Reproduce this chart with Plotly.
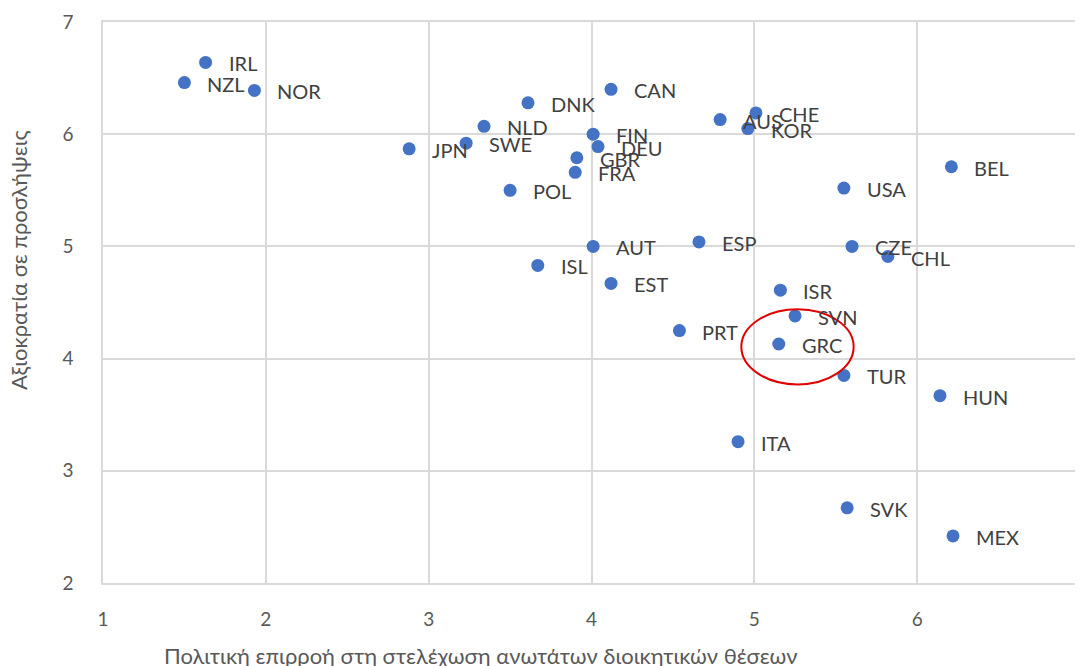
import plotly.graph_objects as go

codes = ["IRL","NZL","NOR","JPN","SWE","NLD","DNK","POL","ISL","AUT","FIN","DEU","GBR","FRA",
         "CAN","EST","ESP","PRT","AUS","CHE","KOR","ITA","ISR","SVN","GRC","TUR","SVK","USA",
         "CZE","CHL","BEL","HUN","MEX"]
political = [1.63,1.50,1.93,2.88,3.23,3.34,3.61,3.50,3.67,4.01,4.01,4.04,3.91,3.90,
             4.12,4.12,4.66,4.54,4.79,5.01,4.96,4.90,5.16,5.25,5.15,5.55,5.57,5.55,
             5.60,5.82,6.21,6.14,6.22]
merit = [6.64,6.46,6.39,5.87,5.92,6.07,6.28,5.50,4.83,5.00,6.00,5.89,5.79,5.66,
         6.40,4.67,5.04,4.25,6.13,6.19,6.05,3.26,4.61,4.38,4.13,3.85,2.67,5.52,
         5.00,4.91,5.71,3.67,2.42]

x_ticks = [1, 2, 3, 4, 5, 6, 7]
y_ticks = [2, 3, 4, 5, 6, 7]

# highlight ellipse (data coords)
ellipse_x = [4.92, 5.61]
ellipse_y = [3.77, 4.44]

x_title = "Πολιτική επιρροή στη στελέχωση ανωτάτων διοικητικών θέσεων"
y_title = "Αξιοκρατία σε προσλήψεις"

FONT = "Lato, Open Sans, sans-serif"

fig = go.Figure()
fig.add_trace(go.Scatter(
    x=political, y=merit, mode="markers",
    marker=dict(size=13, color="#4472C4"),
    hoverinfo="text", text=codes, showlegend=False, cliponaxis=False))

for c, xv, yv in zip(codes, political, merit):
    fig.add_annotation(x=xv, y=yv, text=c, showarrow=False, xanchor="left",
                       yanchor="middle", xshift=21, yshift=-1,
                       font=dict(family=FONT, size=20, color="#404040"))

fig.add_shape(type="circle", xref="x", yref="y",
              x0=ellipse_x[0], x1=ellipse_x[1], y0=ellipse_y[0], y1=ellipse_y[1],
              line=dict(color="#E00000", width=2))

PW = 977
PH = 561
fig.add_annotation(xref="paper", yref="paper", x=(480 - 103) / PW, y=-(655 - 583) / PH,
                   text=x_title, showarrow=False, xanchor="center", yanchor="middle",
                   font=dict(family=FONT, size=22, color="#595959"))
fig.add_annotation(xref="paper", yref="paper", x=-(103 - 19) / PW, y=(583 - 260) / PH,
                   text=y_title, showarrow=False, xanchor="center", yanchor="middle",
                   textangle=-90, font=dict(family=FONT, size=22, color="#595959"))

axis_font = dict(family=FONT, size=19, color="#595959")
# page body adds an 8px offset; figure sized/margined to compensate
fig.update_layout(
    width=1075, height=658,
    margin=dict(l=95, r=3, t=14, b=83, autoexpand=False),
    plot_bgcolor="white", paper_bgcolor="white",
    xaxis=dict(range=[x_ticks[0], x_ticks[-1]], tickvals=x_ticks, showgrid=True,
               gridcolor="#D9D9D9", gridwidth=1.5, mirror=True,
               zeroline=False, showline=True, linecolor="#D9D9D9", linewidth=1.5,
               tickfont=axis_font, ticks="", ticklabelstandoff=18, automargin=False,
               ticklabeloverflow="allow"),
    yaxis=dict(range=[y_ticks[0], y_ticks[-1]], tickvals=y_ticks, showgrid=True,
               gridcolor="#D9D9D9", gridwidth=1.5, mirror=True,
               zeroline=False, showline=True, linecolor="#D9D9D9", linewidth=1.5,
               tickfont=axis_font, ticks="", ticklabelstandoff=24, automargin=False,
               ticklabeloverflow="allow"),
)

fig.write_html("out.html")
